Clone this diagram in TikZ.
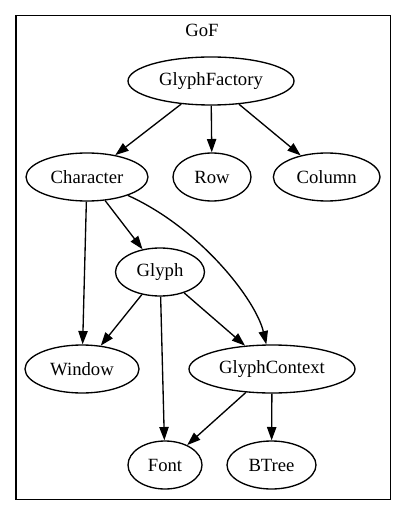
\documentclass[tikz,border=0pt]{standalone}
\usepackage{fontspec}
\setmainfont{Liberation Serif}
\usetikzlibrary{shapes.geometric,arrows.meta}
\begin{document}
\begin{tikzpicture}[x=0.75pt,y=-0.75pt,
  gnode/.style={draw,ellipse,line width=1pt,inner sep=0pt,minimum height=36pt,font=\fontsize{14}{16}\selectfont},
  edge/.style={draw,line width=1pt,-{Triangle[length=10pt,width=7pt]}}]
\useasboundingbox (0,0) rectangle (407,516);
\draw[line width=1pt] (16,15.7) rectangle (390.7,499.3);
\node[anchor=base,inner sep=0pt,font=\fontsize{14}{16}\selectfont] (gof) at (202,36.5) {GoF};
\node[gnode,minimum width=124.5pt] (gf) at (211,81) {GlyphFactory};
\node[gnode,minimum width=91.5pt] (ch) at (87,177) {Character};
\node[gnode,minimum width=58.5pt] (row) at (212,177) {Row};
\node[gnode,minimum width=80pt] (col) at (326.7,177) {Column};
\node[gnode,minimum width=66.75pt] (gl) at (160,272) {Glyph};
\node[gnode,minimum width=85.5pt] (win) at (82,369) {Window};
\node[gnode,minimum width=124.5pt] (gc) at (272,369) {GlyphContext};
\node[gnode,minimum width=55.5pt] (font) at (165,465) {Font};
\node[gnode,minimum width=66.75pt] (bt) at (271.5,465) {BTree};
\draw[edge] (gf) -- (ch);
\draw[edge] (gf) -- (row);
\draw[edge] (gf) -- (col);
\draw[edge] (ch) -- (win);
\draw[edge] (ch) -- (gl);
\draw[edge] (ch) .. controls (200,228) and (256,300) .. (gc);
\draw[edge] (gl) -- (win);
\draw[edge] (gl) -- (font);
\draw[edge] (gl) -- (gc);
\draw[edge] (gc) -- (font);
\draw[edge] (gc) -- (bt);
\end{tikzpicture}
\end{document}
